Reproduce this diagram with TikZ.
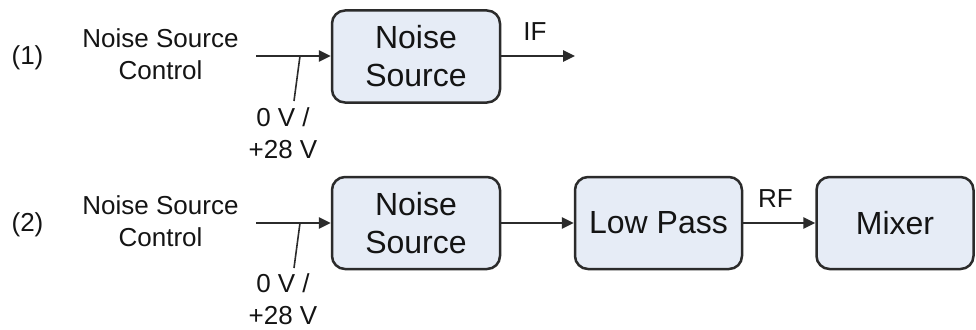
\documentclass[tikz,border=0pt]{standalone}
\usepackage{fontspec}
\setmainfont{Liberation Sans}
\usetikzlibrary{arrows.meta}
\definecolor{boxfill}{HTML}{E6ECF6}
\definecolor{boxline}{HTML}{2B2B2B}
\definecolor{txt}{HTML}{141414}
\begin{document}
\begin{tikzpicture}[x=1pt,y=-1pt,
  blockbox/.style={draw=boxline,fill=boxfill,line width=2.5pt,rounded corners=13pt,
    minimum height=92pt,inner sep=0pt,align=center,text=txt,
    font=\fontsize{32}{38}\selectfont},
  lbl/.style={inner sep=0pt,text=txt,font=\fontsize{26}{32}\selectfont,align=center},
  sig/.style={draw=boxline,line width=2.5pt,-{Triangle[length=12pt,width=11pt]}},
  tick/.style={draw=boxline,line width=1.6pt}]
\useasboundingbox (0,0) rectangle (976,329);
% row 1
\node[lbl,anchor=base] (n1) at (27.5,64) {(1)};
\node[lbl,anchor=north] (c1) at (160.5,28.5) {Noise Source\\Control};
\node[blockbox,minimum width=168pt] (ns1) at (416,56.5) {Noise\\Source};
\coordinate (in1) at (256,56);
\coordinate (t1a) at (300,56);
\coordinate (t1b) at (294,101);
\coordinate (out1) at (575,56);
\draw[sig] (in1) -- (ns1.west |- in1);
\draw[tick] (t1a) -- (t1b);
\node[lbl,anchor=north] (v1) at (283,107.5) {0 V /\\+28 V};
\draw[sig] (ns1.east |- out1) -- (out1);
\node[lbl,anchor=base] (if1) at (535,41) {IF};
% row 2
\node[lbl,anchor=base] (n2) at (27.5,231) {(2)};
\node[lbl,anchor=north] (c2) at (160.5,195.5) {Noise Source\\Control};
\node[blockbox,minimum width=168pt] (ns2) at (416,223) {Noise\\Source};
\node[blockbox,minimum width=167pt] (lp) at (658.5,223) {Low Pass};
\node[blockbox,minimum width=157pt] (mx) at (895,223) {Mixer};
\coordinate (in2) at (256,223);
\coordinate (t2a) at (300,223);
\coordinate (t2b) at (294,268);
\draw[sig] (in2) -- (ns2.west |- in2);
\draw[tick] (t2a) -- (t2b);
\node[lbl,anchor=north] (v2) at (283,273) {0 V /\\+28 V};
\draw[sig] (ns2.east) -- (lp.west);
\draw[sig] (lp.east) -- (mx.west);
\node[lbl,anchor=base] (rf) at (775.5,207) {RF};
\end{tikzpicture}
\end{document}
